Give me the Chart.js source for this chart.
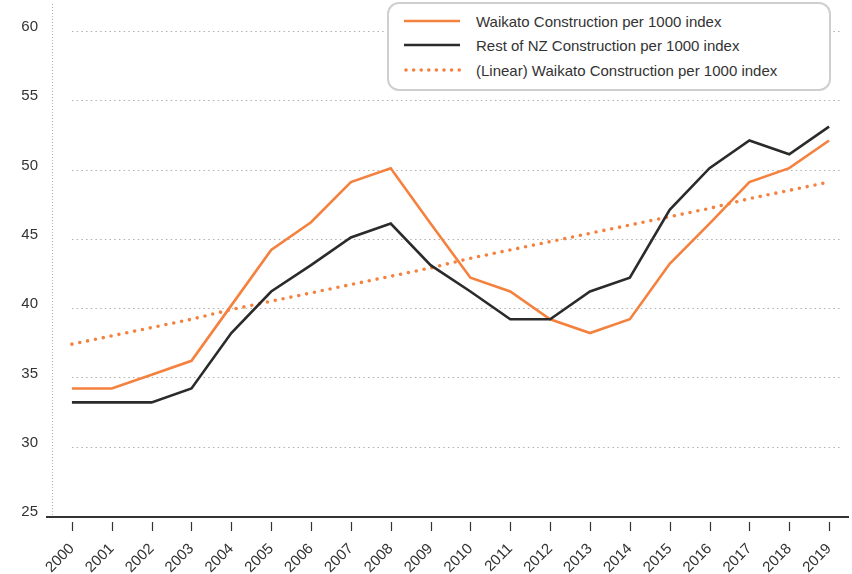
<!DOCTYPE html>
<html>
<head>
<meta charset="utf-8">
<script src="https://cdn.jsdelivr.net/npm/chart.js@4"></script>
<style>
  html, body { margin: 0; padding: 0; background: #fff; }
  #wrap { position: relative; width: 852px; height: 574px; }
  canvas { position: absolute; left: 0; top: 0; }
  #legend {
    position: absolute; left: 387px; top: 2px; width: 440px; height: 85px;
    border: 2px solid #cfcfcf; border-radius: 12px; background: #fff;
    font-family: Arial, "Liberation Sans", sans-serif; font-size: 15px; color: #333;
  }
  .row { position: absolute; left: 0; height: 20px; width: 100%; }
  .row svg { position: absolute; left: 14px; top: 5px; }
  .row span { position: absolute; left: 87px; top: 1px; white-space: nowrap; }
</style>
</head>
<body>
<div id="wrap">
  <canvas id="c" width="852" height="574"></canvas>
  <div id="legend"></div>
</div>
<script>
const years = ["2000","2001","2002","2003","2004","2005","2006","2007","2008","2009",
               "2010","2011","2012","2013","2014","2015","2016","2017","2018","2019"];
const waikato = [34.2,34.2,35.2,36.2,40.2,44.2,46.2,49.1,50.1,46.1,42.2,41.2,39.2,38.2,39.2,43.2,46.1,49.1,50.1,52.1];
const restNZ  = [33.2,33.2,33.2,34.2,38.2,41.2,43.1,45.1,46.1,43.1,41.2,39.2,39.2,41.2,42.2,47.1,50.1,52.1,51.1,53.1];
const waikatoTrend = [37.4,38.0,38.6,39.2,39.9,40.5,41.1,41.7,42.3,42.9,43.6,44.2,44.8,45.4,46.0,46.6,47.2,47.9,48.5,49.1];
const seriesNames = ["Waikato Construction per 1000 index",
                     "Rest of NZ Construction per 1000 index",
                     "(Linear) Waikato Construction per 1000 index"];
const yTicks = [25,30,35,40,45,50,55,60];

const ORANGE = '#F5813F';
const BLACK = '#2b2b2b';

// HTML legend
const legend = document.getElementById('legend');
const rowTops = [8, 32, 57];
seriesNames.forEach((name, i) => {
  const row = document.createElement('div');
  row.className = 'row';
  row.style.top = rowTops[i] + 'px';
  let line;
  if (i === 2) {
    line = `<svg width="60" height="8"><line x1="3" y1="4" x2="57" y2="4" stroke="${ORANGE}" stroke-width="3.6" stroke-linecap="round" stroke-dasharray="0 7.6"/></svg>`;
  } else {
    line = `<svg width="60" height="8"><line x1="1" y1="4" x2="57" y2="4" stroke="${i===0?ORANGE:BLACK}" stroke-width="2.6"/></svg>`;
  }
  row.innerHTML = line + `<span>${name}</span>`;
  legend.appendChild(row);
});

const axesPlugin = {
  id: 'axesPlugin',
  beforeDatasetsDraw(chart) {
    const {ctx, chartArea, scales} = chart;
    const x = scales.x, y = scales.y;
    ctx.save();
    // horizontal dotted gridlines
    ctx.strokeStyle = '#b0b0b0';
    ctx.lineWidth = 1;
    ctx.setLineDash([1.5, 3.2]);
    const x0 = x.getPixelForValue(0);
    yTicks.forEach(v => {
      if (v === yTicks[0]) return;
      const py = Math.round(y.getPixelForValue(v)) + 0.5;
      ctx.beginPath();
      ctx.moveTo(x0, py);
      ctx.lineTo(chartArea.right - 8, py);
      ctx.stroke();
    });
    // vertical dotted y axis line
    ctx.setLineDash([1, 2]);
    ctx.beginPath();
    ctx.moveTo(chartArea.left + 0.5, 4);
    ctx.lineTo(chartArea.left + 0.5, chartArea.bottom);
    ctx.stroke();
    // x axis line
    ctx.setLineDash([]);
    ctx.strokeStyle = '#333';
    ctx.lineWidth = 1.8;
    ctx.beginPath();
    ctx.moveTo(chartArea.left - 6, chartArea.bottom + 1);
    ctx.lineTo(chartArea.right, chartArea.bottom + 1);
    ctx.stroke();
    // tick marks
    ctx.lineWidth = 1.2;
    ctx.strokeStyle = '#333';
    years.forEach((_, i) => {
      const px = Math.round(x.getPixelForValue(i)) + 0.5;
      ctx.beginPath();
      ctx.moveTo(px, chartArea.bottom + 6);
      ctx.lineTo(px, chartArea.bottom + 15);
      ctx.stroke();
    });
    ctx.restore();
  }
};

new Chart(document.getElementById('c'), {
  type: 'line',
  data: {
    labels: years,
    datasets: [
      { label: seriesNames[0], data: waikato, borderColor: ORANGE, borderWidth: 2.6,
        pointRadius: 0, tension: 0, order: 2 },
      { label: seriesNames[1], data: restNZ, borderColor: BLACK, borderWidth: 2.6,
        pointRadius: 0, tension: 0, order: 1 },
      { label: seriesNames[2], data: waikatoTrend, borderColor: ORANGE, borderWidth: 3.6,
        borderDash: [0, 8], borderCapStyle: 'round', pointRadius: 0, tension: 0, order: 3 }
    ]
  },
  options: {
    responsive: false,
    animation: false,
    layout: { padding: { top: 31, right: 3, left: 0, bottom: 0 } },
    plugins: { legend: { display: false }, tooltip: { enabled: false } },
    scales: {
      x: {
        type: 'category',
        offset: true,
        grid: { display: false },
        border: { display: false },
        ticks: {
          minRotation: 45, maxRotation: 45, autoSkip: false,
          padding: 16,
          color: '#333',
          font: { family: 'Arial, "Liberation Sans", sans-serif', size: 15 }
        },
        afterFit(s) { s.height = 58; s.paddingRight = 0; s.paddingLeft = 0; }
      },
      y: {
        min: 25, max: 60,
        grid: { display: false, drawTicks: false },
        border: { display: false },
        ticks: {
          stepSize: 5, padding: 14, color: '#333', labelOffset: -4,
          font: { family: 'Arial, "Liberation Sans", sans-serif', size: 15 }
        },
        afterFit(s) { s.width = 52; s.paddingTop = 0; s.paddingBottom = 0; }
      }
    }
  },
  plugins: [axesPlugin]
});
</script>
</body>
</html>
